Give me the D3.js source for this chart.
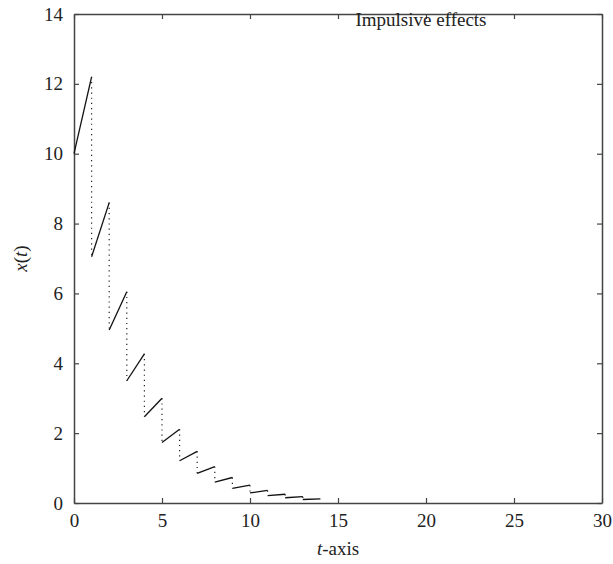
<!DOCTYPE html>
<html>
<head>
<meta charset="utf-8">
<script src="https://cdn.jsdelivr.net/npm/d3@7"></script>
</head>
<body style="margin:0;background:#fff">
<script>
var width = 613,
    height = 564,
    margin = {top: 14, right: 11, bottom: 61, left: 74},
    serif = "Liberation Serif";

// impulse moments and the value of x(t) at the start and end of each interval
var tStart = [0, 1, 2, 3, 4, 5, 6, 7, 8, 9, 10, 11, 12, 13];
var xStart = [10, 7.05, 4.95, 3.5, 2.47, 1.73, 1.21, 0.85, 0.6, 0.42, 0.29, 0.21, 0.15, 0.1];
var xEnd   = [12.2, 8.6, 6.05, 4.27, 3.0, 2.11, 1.48, 1.04, 0.73, 0.51, 0.36, 0.25, 0.18, 0.12];

var xTicks = [0, 5, 10, 15, 20, 25, 30];
var yTicks = [0, 2, 4, 6, 8, 10, 12, 14];

var svg = d3.select("body").append("svg")
    .attr("width", width)
    .attr("height", height)
    .attr("font-family", serif)
    .attr("font-size", 19);

var x = d3.scaleLinear().domain([0, 30]).range([margin.left, width - margin.right]);
var y = d3.scaleLinear().domain([0, 14]).range([height - margin.bottom, margin.top]);

var frameColor = "#444";

// axes with inward ticks on all four sides
function styleAxis(g) {
    g.attr("font-family", serif).attr("font-size", 19);
    g.select(".domain").attr("stroke", frameColor).attr("stroke-width", 1.5);
    g.selectAll(".tick line").attr("stroke", frameColor).attr("stroke-width", 1.2);
    g.selectAll("text").attr("fill", "#222");
}

svg.append("g")
    .attr("transform", "translate(0," + y(0) + ")")
    .call(d3.axisBottom(x).tickValues(xTicks).tickSizeInner(-5).tickSizeOuter(0).tickPadding(11))
    .call(styleAxis);

svg.append("g")
    .attr("transform", "translate(0," + y(14) + ")")
    .call(d3.axisTop(x).tickValues(xTicks).tickSizeInner(-5).tickSizeOuter(0).tickFormat(""))
    .call(styleAxis);

svg.append("g")
    .attr("transform", "translate(" + x(0) + ",0)")
    .call(d3.axisLeft(y).tickValues(yTicks).tickSizeInner(-5).tickSizeOuter(0).tickPadding(11))
    .call(styleAxis);

svg.append("g")
    .attr("transform", "translate(" + x(30) + ",0)")
    .call(d3.axisRight(y).tickValues(yTicks).tickSizeInner(-5).tickSizeOuter(0).tickFormat(""))
    .call(styleAxis);

// solid pieces between impulses
svg.append("g").selectAll("line.seg")
    .data(tStart)
    .enter().append("line")
    .attr("class", "seg")
    .attr("x1", function(d) { return x(d); })
    .attr("y1", function(d, i) { return y(xStart[i]); })
    .attr("x2", function(d) { return x(d + 1); })
    .attr("y2", function(d, i) { return y(xEnd[i]); })
    .attr("stroke", "#111")
    .attr("stroke-width", 1.3);

// dotted jumps at the impulse moments
svg.append("g").selectAll("line.jump")
    .data(tStart.slice(1))
    .enter().append("line")
    .attr("class", "jump")
    .attr("x1", function(d) { return x(d); })
    .attr("y1", function(d, i) { return y(xEnd[i]); })
    .attr("x2", function(d) { return x(d); })
    .attr("y2", function(d, i) { return y(xStart[i + 1]); })
    .attr("stroke", "#222")
    .attr("stroke-width", 1.2)
    .attr("stroke-dasharray", "1.2,4");

// labels
svg.append("text")
    .attr("x", 421)
    .attr("y", 26)
    .attr("text-anchor", "middle")
    .attr("fill", "#222")
    .text("Impulsive effects");

var xl = svg.append("text")
    .attr("x", x(15))
    .attr("y", 555)
    .attr("text-anchor", "middle")
    .attr("fill", "#222");
xl.append("tspan").attr("font-style", "italic").text("t");
xl.append("tspan").text("-axis");

var yl = svg.append("text")
    .attr("transform", "translate(27," + y(7) + ") rotate(-90)")
    .attr("text-anchor", "middle")
    .attr("fill", "#222");
yl.append("tspan").attr("font-style", "italic").text("x");
yl.append("tspan").text("(");
yl.append("tspan").attr("font-style", "italic").text("t");
yl.append("tspan").text(")");
</script>
</body>
</html>
